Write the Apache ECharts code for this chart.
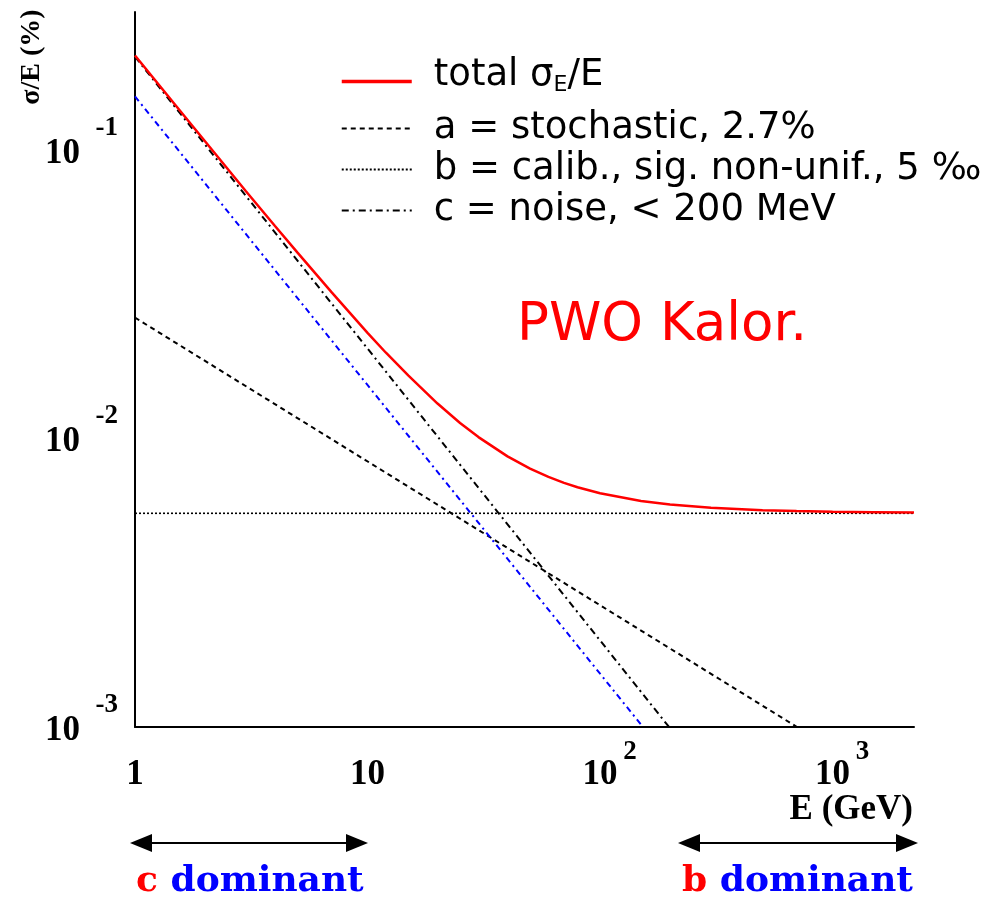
<!DOCTYPE html>
<html><head><meta charset="utf-8">
<script src="https://cdn.jsdelivr.net/npm/echarts@6/dist/echarts.min.js"></script>
<style>html,body{margin:0;padding:0;background:#fff}#c{width:990px;height:904px}</style>
</head><body><div id="c"></div>
<script>
// ---- data ----
const energyTotal = [1,1.5,2,3,4,5,7,10,12,15,20,25,30,40,50,60,70,80,100,150,200,300,500,700,1000,1500,2240];
const sigmaTotal  = [0.212,0.142,0.107,0.0718,0.0544,0.0440,0.0321,0.0232,0.0198,0.0165,0.0132,0.0113,0.0101,0.00866,0.00785,0.00735,0.00701,0.00677,0.00645,0.00607,0.00590,0.00575,0.00564,0.00560,0.00557,0.00555,0.00553];
const energyA = [1, 703];   const sigmaA = [0.0262, 0.001];
const energyB = [1, 2240];  const sigmaB = [0.0055, 0.0055];
const energyC = [1, 198];   const sigmaC = [0.21, 0.001];
const energyBlue = [1, 153]; const sigmaBlue = [0.153, 0.001];

const seriesNames = ['total', 'a = stochastic, 2.7%', 'b = calib., sig. non-unif., 5 \u2030', 'c = noise, < 200 MeV'];

const xTickValues = [1, 10, 100, 1000];
const xTickBase = ['1', '10', '10', '10'];
const xTickExp  = ['', '', '2', '3'];
const yTickValues = [0.001, 0.01, 0.1];
const yTickBase = ['10', '10', '10'];
const yTickExp  = ['-3', '-2', '-1'];

const xMin = 1, xMax = 2240, yMin = 0.001, yMax = 0.3;

function zip(xs, ys) { return xs.map((x, i) => [x, ys[i]]); }
function findTick(v, vals) {
  const lv = Math.log10(v);
  for (let i = 0; i < vals.length; i++) if (Math.abs(lv - Math.log10(vals[i])) < 1e-6) return i;
  return -1;
}

const serif = '"Liberation Serif", "Times New Roman", serif';
const clear = 'rgba(0,0,0,0)';
const chart = echarts.init(document.getElementById('c'));
chart.setOption({
  animation: false,
  backgroundColor: '#fff',
  grid: { left: 135, right: 76, top: 12, bottom: 177, containLabel: false },
  xAxis: {
    type: 'log', logBase: 10, min: xMin, max: xMax,
    axisLine: { show: true, lineStyle: { color: '#000', width: 2 } },
    axisTick: { show: false },
    splitLine: { show: false },
    minorTick: { show: false },
    axisLabel: {
      margin: 17,
      formatter: function (v) {
        const i = findTick(v, xTickValues);
        if (i < 0) return '';
        return '{s|' + (xTickExp[i] || ' ') + '}\n{b|' + xTickBase[i] + '}';
      },
      rich: {
        s: { fontFamily: serif, fontWeight: 'bold', fontSize: 27, lineHeight: 17, padding: [0, 0, 0, 60], align: 'center', color: '#000' },
        b: { fontFamily: serif, fontWeight: 'bold', fontSize: 35, lineHeight: 28, align: 'center', color: '#000' }
      }
    }
  },
  yAxis: {
    type: 'log', logBase: 10, min: yMin, max: yMax,
    axisLine: { show: true, lineStyle: { color: '#000', width: 2 } },
    axisTick: { show: false },
    splitLine: { show: false },
    minorTick: { show: false },
    axisLabel: {
      margin: 17,
      padding: [0, 0, 12, 0],
      formatter: function (v) {
        const i = findTick(v, yTickValues);
        if (i < 0) return '';
        return '{s|' + yTickExp[i] + '}\n{b|' + yTickBase[i] + '}';
      },
      rich: {
        s: { fontFamily: serif, fontWeight: 'bold', fontSize: 27, lineHeight: 20, align: 'right', color: '#000' },
        b: { fontFamily: serif, fontWeight: 'bold', fontSize: 35, lineHeight: 32, padding: [0, 38, 0, 0], align: 'right', color: '#000' }
      }
    }
  },
  legend: {
    orient: 'vertical', left: 335, top: 50,
    itemWidth: 70, itemHeight: 16, itemGap: 0,
    itemStyle: { color: clear, borderColor: clear, borderWidth: 0, opacity: 0 },
    data: [
      { name: seriesNames[0], lineStyle: { width: 3.5 }, textStyle: { padding: [0, 0, 12, 17] } },
      { name: seriesNames[1] },
      { name: seriesNames[2] },
      { name: seriesNames[3] }
    ],
    formatter: function (name) {
      if (name === 'total') return 'total \u03c3{sub|E}/E';
      return name;
    },
    textStyle: {
      fontFamily: '"DejaVu Sans"', fontSize: 37, color: '#000', lineHeight: 41,
      padding: [0, 0, 0, 17],
      rich: {
        sub: { fontFamily: '"DejaVu Sans"', fontSize: 22, lineHeight: 4, verticalAlign: 'bottom', color: '#000' }
      }
    }
  },
  series: [
    { name: seriesNames[0], type: 'line', data: zip(energyTotal, sigmaTotal), symbol: 'none', z: 5,
      lineStyle: { color: '#ff0000', width: 2.5 }, itemStyle: { color: '#ff0000' } },
    { name: seriesNames[1], type: 'line', data: zip(energyA, sigmaA), symbol: 'none',
      lineStyle: { color: '#000', width: 2, type: [5, 4] }, itemStyle: { color: '#000' } },
    { name: seriesNames[2], type: 'line', data: zip(energyB, sigmaB), symbol: 'none',
      lineStyle: { color: '#000', width: 1.6, type: [2, 2] }, itemStyle: { color: '#000' } },
    { name: seriesNames[3], type: 'line', data: zip(energyC, sigmaC), symbol: 'none',
      lineStyle: { color: '#000', width: 2, type: [7, 4, 2, 4] }, itemStyle: { color: '#000' } },
    { name: 'c (150 MeV)', type: 'line', data: zip(energyBlue, sigmaBlue), symbol: 'none',
      lineStyle: { color: '#0000ff', width: 2, type: [6, 4, 2, 4] }, itemStyle: { color: '#0000ff' } }
  ],
  graphic: [
    { type: 'text', x: 517, y: 326, style: { text: 'PWO Kalor.', fill: '#ff0000', font: '53px "DejaVu Sans"', align: 'left', verticalAlign: 'middle', textAlign: 'left', textVerticalAlign: 'middle' } },
    { type: 'text', x: 913, y: 810, style: { text: 'E (GeV)', fill: '#000', font: 'bold 35px ' + serif, align: 'right', verticalAlign: 'middle', textAlign: 'right', textVerticalAlign: 'middle' } },
    { type: 'text', x: 32, y: 57, rotation: Math.PI / 2, style: { text: '\u03c3/E (%)', fill: '#000', font: 'bold 28px ' + serif, align: 'center', verticalAlign: 'middle', textAlign: 'center', textVerticalAlign: 'middle' } },
    // arrows
    { type: 'line', shape: { x1: 148, y1: 843, x2: 350, y2: 843 }, style: { stroke: '#000', lineWidth: 2 } },
    { type: 'polygon', shape: { points: [[130, 843], [152, 834], [152, 852]] }, style: { fill: '#000' } },
    { type: 'polygon', shape: { points: [[368, 843], [346, 834], [346, 852]] }, style: { fill: '#000' } },
    { type: 'line', shape: { x1: 696, y1: 843, x2: 900, y2: 843 }, style: { stroke: '#000', lineWidth: 2 } },
    { type: 'polygon', shape: { points: [[678, 843], [700, 834], [700, 852]] }, style: { fill: '#000' } },
    { type: 'polygon', shape: { points: [[918, 843], [896, 834], [896, 852]] }, style: { fill: '#000' } },
    { type: 'text', x: 136, y: 882, style: { text: '{r|c} {b|dominant}', font: 'bold 36px "DejaVu Serif"', align: 'left', verticalAlign: 'middle', textAlign: 'left', textVerticalAlign: 'middle',
      rich: { r: { fill: '#ff0000', color: '#ff0000', font: 'bold 36px "DejaVu Serif"' }, b: { fill: '#0000ff', color: '#0000ff', font: 'bold 36px "DejaVu Serif"' } } } },
    { type: 'text', x: 682, y: 882, style: { text: '{r|b} {b|dominant}', font: 'bold 36px "DejaVu Serif"', align: 'left', verticalAlign: 'middle', textAlign: 'left', textVerticalAlign: 'middle',
      rich: { r: { fill: '#ff0000', color: '#ff0000', font: 'bold 36px "DejaVu Serif"' }, b: { fill: '#0000ff', color: '#0000ff', font: 'bold 36px "DejaVu Serif"' } } } }
  ]
});
</script>
</body></html>
